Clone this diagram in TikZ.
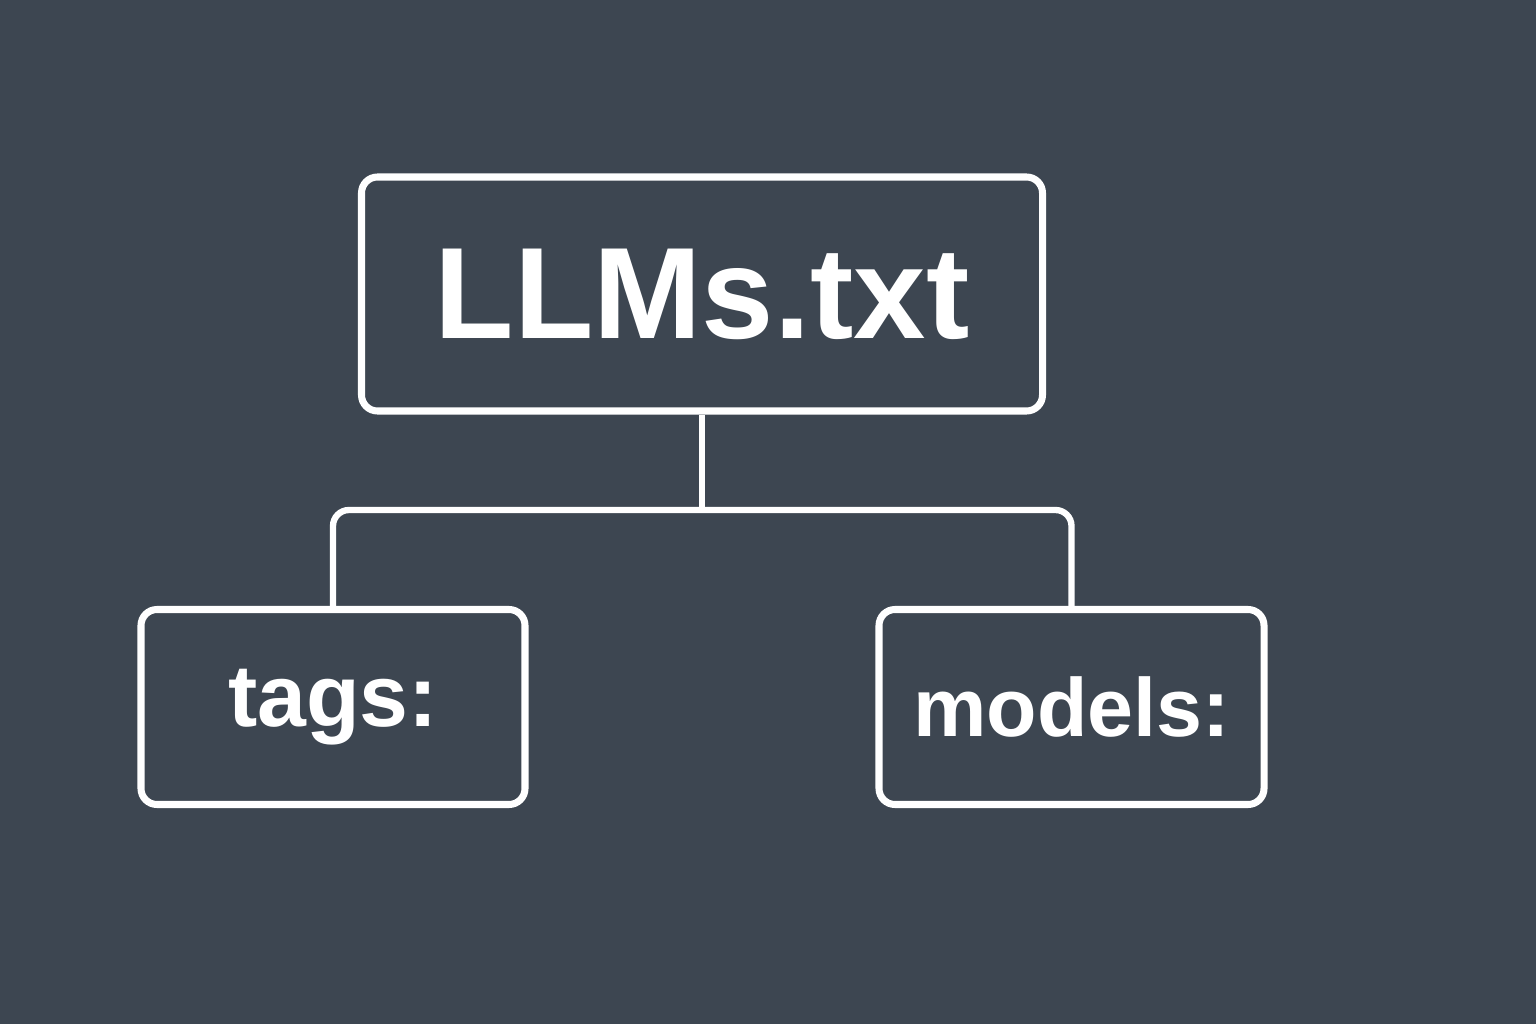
\documentclass[tikz,border=0pt]{standalone}
\usepackage{fontspec}
\setmainfont{Liberation Sans}
\usepackage{tikz}
\usetikzlibrary{positioning}
\definecolor{slate}{HTML}{3D4651}

\begin{document}
\begin{tikzpicture}
    \tikzset{box/.style = {draw=white,line width=2pt,rounded corners=0.16cm,text=white,inner sep=0pt}}
    \tikzset{link/.style = {draw=white,line width=1.8pt,rounded corners=0.16cm}}
    % background
    \fill[slate] (0,0) rectangle (15.36,10.24);
    % boxes
    \node[box,minimum width=6.81cm,minimum height=2.34cm,font=\fontsize{37}{40}\selectfont\bfseries] (root) at (7.02,7.30) {LLMs.txt};
    \node[box,minimum width=3.84cm,minimum height=1.95cm,font=\fontsize{25}{28}\selectfont\bfseries] (tags) at (3.33,3.17) {tags:};
    \node[box,minimum width=3.85cm,minimum height=1.95cm,font=\fontsize{23.5}{27}\selectfont\bfseries] (models) at (10.715,3.17) {models:};
    % links
    \coordinate (split) at (root.south |- 0,5.14);
    \draw[link] (root.south) -- (split);
    \draw[link] (tags.north) -- (tags.north |- split) -- (models.north |- split) -- (models.north);
\end{tikzpicture}
\end{document}
